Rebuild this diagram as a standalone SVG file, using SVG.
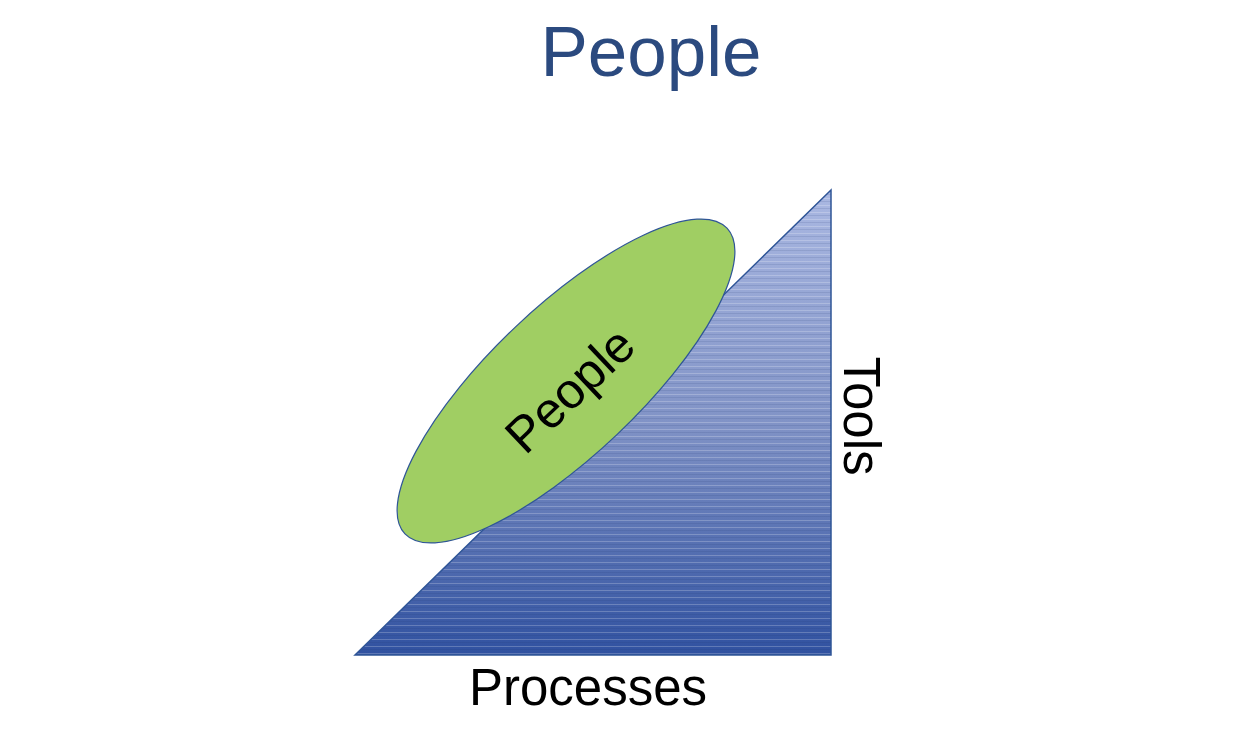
<svg xmlns="http://www.w3.org/2000/svg" width="1244" height="756" viewBox="0 0 1244 756">
<style>
.lbl{font-family:"Liberation Sans",Arial,sans-serif;font-size:51px;fill:#000}
.title{font-family:"Liberation Sans",Arial,sans-serif;font-size:71px;fill:#2B4A7F}
</style>
<defs>
<linearGradient id="tri" x1="0" y1="0" x2="0" y2="1">
<stop offset="0" stop-color="#AAB8E2"/>
<stop offset="0.5" stop-color="#8193C6"/>
<stop offset="1" stop-color="#3051A0"/>
</linearGradient>
<pattern id="stripes" width="8" height="7" patternUnits="userSpaceOnUse">
<rect x="0" y="2" width="8" height="1" fill="#ffffff" opacity="0.22"/>
<rect x="0" y="5" width="8" height="1" fill="#1a2f6a" opacity="0.12"/>
</pattern>
</defs>
<rect width="1244" height="756" fill="#ffffff"/>
<g id="title"><text class="title" x="651" y="76" text-anchor="middle">People</text></g>
<g id="triangle">
<polygon points="355,655 831,190 831,655" fill="url(#tri)"/>
<polygon points="355,655 831,190 831,655" fill="url(#stripes)" stroke="#2F5597" stroke-width="1.5"/>
</g>
<g id="people">
<ellipse cx="566" cy="381" rx="222" ry="74" transform="rotate(-43.5 566 381)" fill="#A0CE63" stroke="#2F5597" stroke-width="1.2"/>
<text class="lbl" x="0" y="17" text-anchor="middle" style="font-size:50px" transform="translate(570 390) rotate(-43.5)">People</text>
</g>
<g id="tools"><text class="lbl" x="0" y="0" text-anchor="middle" transform="translate(844 416) rotate(90)">Tools</text></g>
<g id="processes"><text class="lbl" x="588" y="705" text-anchor="middle">Processes</text></g>
<g id="connectors"></g>
</svg>
